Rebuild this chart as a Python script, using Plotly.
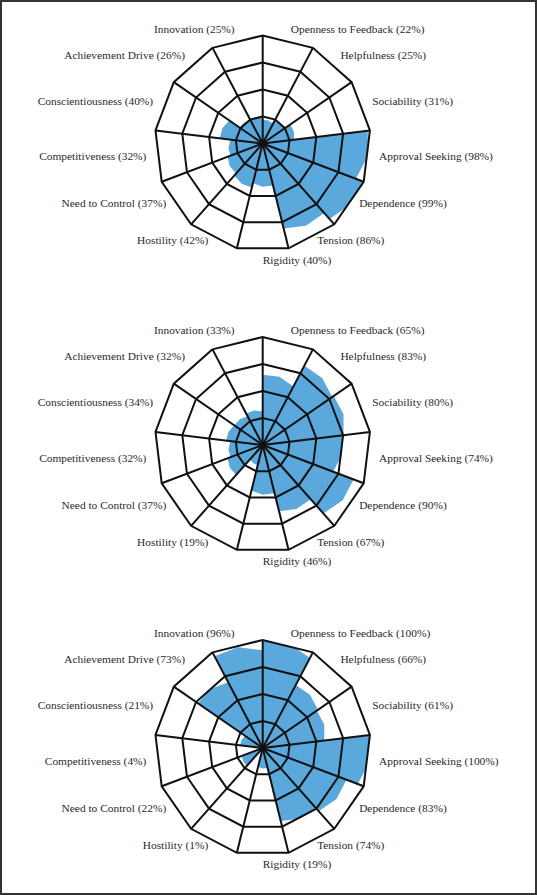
import plotly.graph_objects as go

W, H = 537, 895

traits = ["Openness to Feedback", "Helpfulness", "Sociability", "Approval Seeking",
          "Dependence", "Tension", "Rigidity", "Hostility", "Need to Control",
          "Competitiveness", "Conscientiousness", "Achievement Drive", "Innovation"]
profile_1 = [22, 25, 31, 98, 99, 86, 40, 42, 37, 32, 40, 26, 25]
profile_2 = [65, 83, 80, 74, 90, 67, 46, 19, 37, 32, 34, 32, 33]
profile_3 = [100, 66, 61, 100, 83, 74, 19, 1, 22, 4, 21, 73, 96]
profiles = [profile_1, profile_2, profile_3]
ring_levels = [25, 50, 75]
r_max = 100
label_r = 108.5

FILL = "#5aa8dc"
LINE = "#111111"
TEXT = "#2a2a2a"
FONT = "Liberation Serif"

n = len(traits)
step = 360.0 / n
spoke_deg = [k * step for k in range(n)]
center_deg = [(k + 0.5) * step for k in range(n)]


def text_pos(deg):
    side = "right" if deg <= 180 else "left"
    vert = "top" if 110 < deg < 250 and abs(deg - 180) > 1 else "middle"
    return f"{vert} {side}"


positions = [text_pos(d) for d in center_deg]

centers_y = [143.5, 445.0, 748.0]
cx = 262.7
R = 108.0
RB = R * label_r / r_max

fig = go.Figure()
layout = {}

for i, vals in enumerate(profiles):
    a = "polar" if i == 0 else f"polar{2 * i + 1}"
    b = f"polar{2 * i + 2}"
    cy = centers_y[i]
    dom_a = dict(x=[(cx - R) / W, (cx + R) / W],
                 y=[(H - cy - R) / H, (H - cy + R) / H])
    dom_b = dict(x=[(cx - RB) / W, (cx + RB) / W],
                 y=[(H - cy - RB) / H, (H - cy + RB) / H])

    # filled sectors (polygon-shaped bars)
    fig.add_trace(go.Barpolar(
        r=vals, theta=traits, offset=0, width=1,
        marker=dict(color=FILL, line=dict(width=0)),
        subplot=a, showlegend=False, hoverinfo="skip"))

    # grid rings
    rt, rr = [], []
    for lv in ring_levels:
        rt += spoke_deg + [spoke_deg[0], None]
        rr += [lv] * (n + 1) + [None]
    fig.add_trace(go.Scatterpolar(
        r=rr, theta=rt, mode="lines", line=dict(color=LINE, width=2),
        subplot=b, showlegend=False, hoverinfo="skip", cliponaxis=False))
    # spokes
    st, sr = [], []
    for d in spoke_deg:
        st += [d, d, None]
        sr += [0, r_max, None]
    fig.add_trace(go.Scatterpolar(
        r=sr, theta=st, mode="lines", line=dict(color=LINE, width=2),
        subplot=b, showlegend=False, hoverinfo="skip", cliponaxis=False))

    # labels
    labels = [f"{t} ({v}%)" for t, v in zip(traits, vals)]
    fig.add_trace(go.Scatterpolar(
        r=[label_r] * n, theta=center_deg, mode="text", text=labels,
        textposition=positions,
        textfont=dict(family=FONT, size=11.4, color=TEXT),
        subplot=b, showlegend=False, hoverinfo="skip", cliponaxis=False))

    layout[a] = dict(
        domain=dom_a, gridshape="linear", bgcolor="white",
        radialaxis=dict(range=[0, r_max], showgrid=False, showline=False,
                        showticklabels=False, ticks=""),
        angularaxis=dict(type="category", categoryorder="array", categoryarray=traits,
                         period=n, rotation=90, direction="clockwise",
                         showgrid=False, showline=True, linecolor=LINE, linewidth=2,
                         showticklabels=False, ticks="", layer="above traces"))
    layout[b] = dict(
        domain=dom_b, bgcolor="rgba(0,0,0,0)",
        radialaxis=dict(range=[0, label_r], showgrid=False, showline=False,
                        showticklabels=False, ticks=""),
        angularaxis=dict(rotation=90, direction="clockwise", showgrid=False,
                         showline=False, showticklabels=False, ticks=""))

fig.update_layout(
    width=W, height=H, margin=dict(l=0, r=0, t=0, b=0),
    paper_bgcolor="white", plot_bgcolor="white",
    shapes=[dict(type="rect", xref="paper", yref="paper", x0=0, x1=1, y0=0, y1=1,
                 line=dict(color="#333333", width=4))],
    **layout)

fig.write_html("out.html", config={"displayModeBar": False},
               post_script="document.body.style.margin='0px';document.body.style.overflow='hidden';")
